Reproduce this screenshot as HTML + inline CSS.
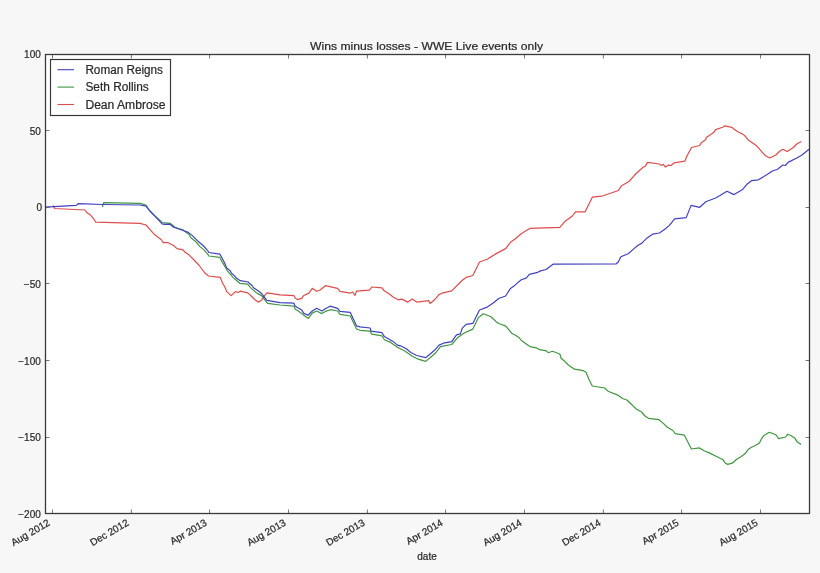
<!DOCTYPE html>
<html><head><meta charset="utf-8"><style>
html,body{margin:0;padding:0;background:#f7f7f7;}
svg{display:block;will-change:transform;}

text{font-family:"Liberation Sans",sans-serif;fill:#2a2a2a;stroke:#2a2a2a;stroke-width:0.22;}
</style></head><body>
<svg width="820" height="573" viewBox="0 0 820 573">
<rect x="0" y="0" width="820" height="573" fill="#f7f7f7"/>
<rect x="45.5" y="54.5" width="764.0" height="459.0" fill="#fff"/>
<g>
<polyline fill="none" stroke="#dd4c4c" stroke-width="1.2" stroke-linejoin="round" points="53.4,205.4 54.5,208.5 85,210 87,212.8 90.3,214.8 93.7,218.8 95.7,222.2 140,223.3 146.1,225 149.8,229.3 154.7,234.8 161.4,239.7 163.2,242.7 168.1,242.7 173.5,245.5 177,248.6 183.1,249.9 184.8,252.1 189.2,255.1 193.5,259.5 198.8,265 204.9,273 208.5,276 220.2,277.3 222.5,283 225,287.3 226.7,291.6 231.1,295.6 235.5,291.6 238.1,292.5 240.3,291.2 247.7,292.9 251.2,296 254.7,299.5 258.1,302.1 261.6,300.3 263.4,296.9 266.9,292.9 280,294.8 294,295.7 295.3,298.3 297.4,299.6 301.8,298.3 303.5,295.7 308.8,293.1 312.3,288.3 316.6,291.3 320.1,290 325.3,285.7 337.6,288.3 340,291.3 350.3,293.2 352.6,292 355,295.4 356.5,291.2 369.4,290.2 371.8,287 382,287.9 383.6,290.2 390,294.6 393,296.9 398.2,299.8 401.9,299.1 407.8,302.1 412.3,299.1 416.7,302.1 428.6,300.6 430.1,303.5 434.5,299.8 439,294.6 441.9,293.2 451.7,290.8 457.5,285 462.3,280.3 466.1,277.4 472.8,275.5 479.5,262 487.2,259.2 494.8,254.4 505.6,248.6 510.5,242.3 515.3,238.8 520.9,234 525.1,231.2 530,228.4 559.8,227.4 565,221.3 572.4,216 575.5,211.9 585,211.9 592.3,197.2 601.7,196.2 618.4,190.5 621.6,185.7 628.9,181.5 634.9,174.8 642.7,167.5 645.5,165.9 647.5,162.4 659.6,164 660.8,165.5 663.2,164.4 665.5,167.1 668.7,165.1 671,165.5 674.2,162.8 684.8,161.2 687.1,155.7 691.5,147.5 699.7,145.5 701.2,142.7 705.6,139.8 706.3,137.6 710.7,134.6 714.4,131.7 715.1,129.9 723.2,127 724.6,125.9 732,127.3 733.4,128.8 737.8,131.7 740,132.8 744.4,135.3 747.9,139.7 756.6,145.8 761.9,151.9 765.4,155.7 769.7,158 775.8,155 779.3,151.5 782.8,149.3 787.2,151.5 793.3,147.5 796.8,144 801.2,141.4"/>
<polyline fill="none" stroke="#409640" stroke-width="1.2" stroke-linejoin="round" points="102.4,207 103.7,202.7 140,203.4 146,205 149.3,210.1 155,216 162.6,222.6 170,223.3 175.2,227.2 178.7,228.5 183.1,229.8 184.8,231.6 189.2,234.6 190.9,237.7 195.3,241.2 199.7,246.4 204,249.9 207.5,253.8 208.8,256 219.7,257.3 222.3,262.1 225,266.8 227.6,271.1 230.7,274.6 233.7,278.1 236.3,280.3 239.8,283.3 247.7,284.2 250.3,287.3 252.9,289.9 257.3,293.4 261.6,295.6 265.1,300.3 267.7,303.4 280,305 294,306.2 295.3,309.2 298.3,311 302.7,314.4 308.3,318.4 312.3,313.1 316.6,311 321.9,313.6 325.3,311.4 330.6,309.7 337.6,311 340,314.4 350.3,316 356.5,329 360,330.3 370.2,331.1 371.8,334.2 382,335.8 384.4,339.7 390,342.1 397.4,347.3 404.8,351 412.3,356.2 418.2,359.2 425.6,361.4 430.1,357.7 436,352.5 440.4,346.6 451.7,344.5 457.5,337.8 464.2,333 472.8,329.1 478.5,317.6 483.3,313.8 491,316.7 496.8,322.4 500,324 505.5,325.9 509.8,330.8 511.6,333.2 515.9,335.6 519.5,338.1 521.4,340.5 525.6,343.6 529.9,346.6 536.6,347.9 539.7,349.7 546.4,350.9 548.2,352.7 552.5,351.3 559.8,354 561.1,358.2 564.7,361.3 568.4,365 574.5,369.2 583,370.6 586,372.3 589,379.5 592.3,386 604.8,388 608,391.2 618.4,395.4 622.6,398.5 626.8,400 632,404.8 636.2,409 641.6,412 645,416 648.5,418.3 659,419.7 663.6,423.6 667,427 672.9,430.5 675.2,433.6 684.4,435.2 691.4,449 699.5,447.9 704,450.7 708.8,452.6 718,457.2 723.1,459.8 725.4,463.2 727.7,464.4 732.2,463.2 736.7,459.2 741.3,456.4 745.2,453.6 748.1,449.6 751.5,447.3 754.8,445.7 759.5,443 761.1,439.4 763.9,435.4 769.4,432.3 776.2,435 778.5,438.6 785.7,437 787.6,434.2 791.2,435.8 795.2,438.6 796.8,441.4 801.1,444.6"/>
<polyline fill="none" stroke="#4040c4" stroke-width="1.2" stroke-linejoin="round" points="45,207.2 76.2,205.4 78.2,203.7 103,204.5 140,205 146,206.1 149.8,211 155.9,217.1 162,223.8 165,224.4 170,224.2 173.5,227.2 178.7,229 184,230.7 188.3,232.4 192.7,235.9 197.9,241.2 203.1,245.5 207.5,250.3 208.8,252.5 219.7,254.2 221.5,256.9 225,263.7 226.7,268.1 230.2,270.7 231.5,273.3 234.6,275.9 236.3,278.1 240.3,280.7 248.1,282 249.4,283.3 252,285.5 253.8,288.1 258.1,290.8 261.6,293.4 263.4,296 266.9,300.3 280,302.6 294,303.1 294.8,305.7 297.4,307.5 301.8,310.1 303.5,313.1 307.9,315.3 312.3,311 316.6,308.3 321.9,311 325.3,308.8 330.1,306.2 337.6,308.3 340,311.4 350.3,312.4 356.5,325.8 360,326.8 370.2,328 371,331.1 382,332.7 384.4,336.6 393,341.4 397.4,345.1 400.4,345.8 406.3,348.8 410.8,352.5 416.7,355.5 425.6,357.7 429.3,354.7 434.5,350.3 439,345.1 443.4,343.2 451.7,341.6 456.5,334.9 460.3,333.9 462.3,328.2 466.1,324.3 472.8,323.4 479.5,310 487.2,307.1 492.9,303.3 498.7,298.5 505.6,296 510.5,288.4 515.3,284.9 520.9,280 526.5,277.9 529.3,274.4 537.7,272.3 540.5,270.9 546,269.5 553,264.2 616,264 618.4,261.7 620.9,256.8 628.2,253.7 633.7,248.9 638,245.2 641.6,243.4 647.1,237.9 652.6,234.2 659.4,233 664.8,229.3 669.1,225.6 671.6,222.6 674.6,218.9 686.2,217.6 691.1,205.4 699.7,207.3 705.8,201.7 715.6,198 720,195.5 727,191.2 734,194.6 742.7,189.4 747,184.2 751.4,180.7 758.4,179.8 767.1,174.6 772.4,171 777.6,169.3 782.8,165 785.4,165.5 788,162.4 796.8,158 802,155 809,149.3"/>
</g>
<path d="M45.5 54.5h4M809.5 54.5h-4M45.5 130.5h4M809.5 130.5h-4M45.5 207.5h4M809.5 207.5h-4M45.5 283.5h4M809.5 283.5h-4M45.5 360.5h4M809.5 360.5h-4M45.5 437.5h4M809.5 437.5h-4M45.5 513.5h4M809.5 513.5h-4M52.5 54.5v4M52.5 513.5v-4M131.4 54.5v4M131.4 513.5v-4M209.6 54.5v4M209.6 513.5v-4M288.5 54.5v4M288.5 513.5v-4M367.4 54.5v4M367.4 513.5v-4M445.6 54.5v4M445.6 513.5v-4M524.5 54.5v4M524.5 513.5v-4M603.4 54.5v4M603.4 513.5v-4M681.6 54.5v4M681.6 513.5v-4M760.5 54.5v4M760.5 513.5v-4" stroke="#666" stroke-width="0.9" fill="none"/>
<rect x="45.5" y="54.5" width="764.0" height="459.0" fill="none" stroke="#3a3a3a" stroke-width="1.3"/>
<rect x="50.5" y="59.5" width="120" height="56" fill="#fff" stroke="#3a3a3a" stroke-width="1.2"/>
<path d="M57.5 69.7H74" stroke="#4040c4" stroke-width="1.1"/>
<text x="85.4" y="73.7" font-size="12" textLength="77.6" lengthAdjust="spacingAndGlyphs">Roman Reigns</text>
<path d="M57.5 87.1H74" stroke="#409640" stroke-width="1.1"/>
<text x="85.4" y="91.1" font-size="12" textLength="63.4" lengthAdjust="spacingAndGlyphs">Seth Rollins</text>
<path d="M57.5 104.5H74" stroke="#dd4c4c" stroke-width="1.1"/>
<text x="85.4" y="108.5" font-size="12" textLength="80.1" lengthAdjust="spacingAndGlyphs">Dean Ambrose</text>
<text x="310" y="49.8" font-size="11" textLength="233" lengthAdjust="spacingAndGlyphs">Wins minus losses - WWE Live events only</text>
<text x="40.8" y="57.7" font-size="10" text-anchor="end">100</text>
<text x="40.8" y="134.7" font-size="10" text-anchor="end">50</text>
<text x="42" y="210.7" font-size="10" text-anchor="end">0</text>
<text x="40.8" y="287.7" font-size="10" text-anchor="end">−50</text>
<text x="40.8" y="364.7" font-size="10" text-anchor="end">−100</text>
<text x="40.8" y="440.7" font-size="10" text-anchor="end">−150</text>
<text x="40.8" y="517.7" font-size="10" text-anchor="end">−200</text>
<text x="50.6" y="524.8" font-size="10" text-anchor="end" transform="rotate(-30 50.6 524.8)">Aug 2012</text>
<text x="129.5" y="524.8" font-size="10" text-anchor="end" transform="rotate(-30 129.5 524.8)">Dec 2012</text>
<text x="207.7" y="524.8" font-size="10" text-anchor="end" transform="rotate(-30 207.7 524.8)">Apr 2013</text>
<text x="286.6" y="524.8" font-size="10" text-anchor="end" transform="rotate(-30 286.6 524.8)">Aug 2013</text>
<text x="365.5" y="524.8" font-size="10" text-anchor="end" transform="rotate(-30 365.5 524.8)">Dec 2013</text>
<text x="443.7" y="524.8" font-size="10" text-anchor="end" transform="rotate(-30 443.7 524.8)">Apr 2014</text>
<text x="522.6" y="524.8" font-size="10" text-anchor="end" transform="rotate(-30 522.6 524.8)">Aug 2014</text>
<text x="601.5" y="524.8" font-size="10" text-anchor="end" transform="rotate(-30 601.5 524.8)">Dec 2014</text>
<text x="679.7" y="524.8" font-size="10" text-anchor="end" transform="rotate(-30 679.7 524.8)">Apr 2015</text>
<text x="758.6" y="524.8" font-size="10" text-anchor="end" transform="rotate(-30 758.6 524.8)">Aug 2015</text>
<text x="427" y="559.5" font-size="10" text-anchor="middle">date</text>
</svg></body></html>
